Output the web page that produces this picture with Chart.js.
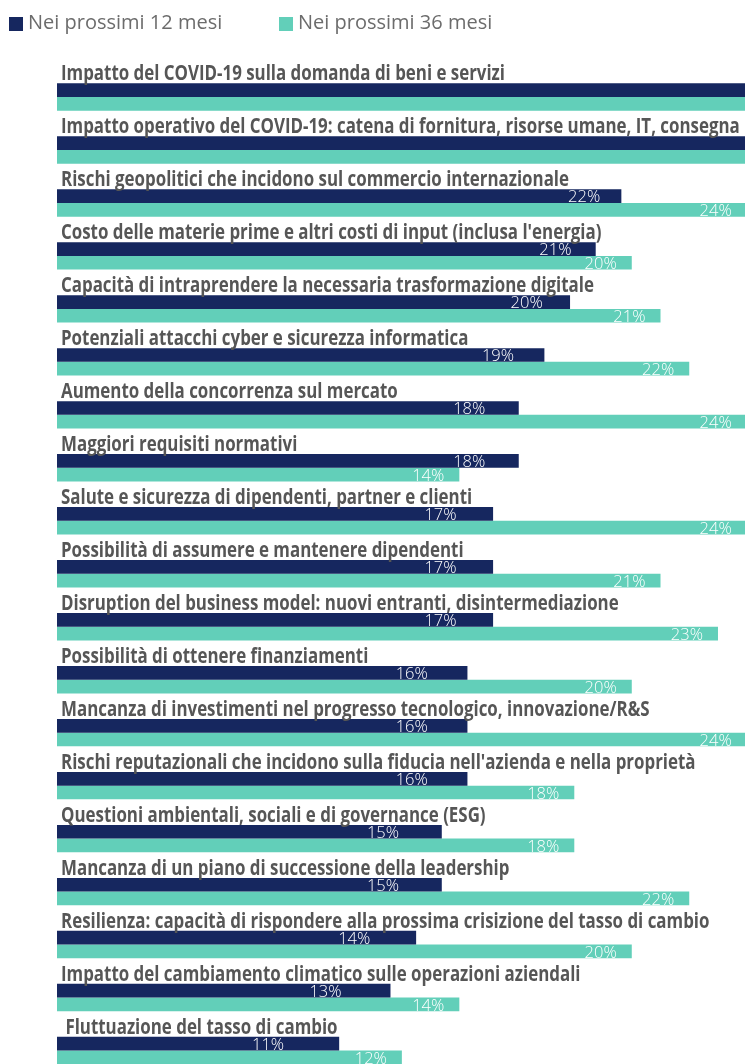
<!DOCTYPE html>
<html lang="it">
<head>
<meta charset="utf-8">
<title>Rischi per l'azienda</title>
<script src="https://cdn.jsdelivr.net/npm/chart.js@4.4.1/dist/chart.umd.min.js"></script>
<style>
  html, body { margin: 0; padding: 0; background: #fff; overflow: hidden; }
  #wrap { position: relative; width: 745px; height: 1077px; }
</style>
</head>
<body>
<div id="wrap"><canvas id="riskChart"></canvas></div>
<script>
const categories = [
  'Impatto del COVID-19 sulla domanda di beni e servizi',
  'Impatto operativo del COVID-19: catena di fornitura, risorse umane, IT, consegna',
  'Rischi geopolitici che incidono sul commercio internazionale',
  "Costo delle materie prime e altri costi di input (inclusa l'energia)",
  'Capacità di intraprendere la necessaria trasformazione digitale',
  'Potenziali attacchi cyber e sicurezza informatica',
  'Aumento della concorrenza sul mercato',
  'Maggiori requisiti normativi',
  'Salute e sicurezza di dipendenti, partner e clienti',
  'Possibilità di assumere e mantenere dipendenti',
  'Disruption del business model: nuovi entranti, disintermediazione',
  'Possibilità di ottenere finanziamenti',
  'Mancanza di investimenti nel progresso tecnologico, innovazione/R&S',
  "Rischi reputazionali che incidono sulla fiducia nell'azienda e nella proprietà",
  'Questioni ambientali, sociali e di governance (ESG)',
  'Mancanza di un piano di successione della leadership',
  'Resilienza: capacità di rispondere alla prossima crisizione del tasso di cambio',
  'Impatto del cambiamento climatico sulle operazioni aziendali',
  ' Fluttuazione del tasso di cambio'
];
const next12 = [30, 29, 22, 21, 20, 19, 18, 18, 17, 17, 17, 16, 16, 16, 15, 15, 14, 13, 11];
const next36 = [27, 26, 24, 20, 21, 22, 24, 14, 24, 21, 23, 20, 24, 18, 18, 22, 20, 14, 12];
const seriesNames = ['Nei prossimi 12 mesi', 'Nei prossimi 36 mesi'];

const NAVY = '#16275f';
const TEAL = '#62cfb9';
const LABEL_GREY = '#565656';

// legend squares + names along the top
const topLegend = {
  id: 'topLegend',
  afterDraw(chart) {
    const ctx = chart.ctx;
    const xs = [9, 279];
    ctx.save();
    ctx.font = '20px "Open Sans"';
    ctx.textBaseline = 'middle';
    ctx.textAlign = 'left';
    chart.data.datasets.forEach((ds, i) => {
      ctx.fillStyle = ds.backgroundColor;
      ctx.fillRect(xs[i], 17, 14, 14);
      ctx.fillStyle = '#6c6c6c';
      ctx.fillText(ds.label, xs[i] + 19, 23);
    });
    ctx.restore();
  }
};

// category names above each pair of bars, condensed bold
const categoryNames = {
  id: 'categoryNames',
  afterDatasetsDraw(chart) {
    const ctx = chart.ctx;
    const meta = chart.getDatasetMeta(0);
    ctx.save();
    ctx.font = 'bold 20.5px "Open Sans"';
    const squeeze = 444 / ctx.measureText(chart.data.labels[0]).width;
    ctx.fillStyle = LABEL_GREY;
    ctx.textBaseline = 'alphabetic';
    ctx.textAlign = 'left';
    meta.data.forEach((bar, i) => {
      const top = bar.y - bar.height / 2;
      ctx.save();
      ctx.translate(chart.chartArea.left + 4, top - 3);
      ctx.scale(squeeze, 1);
      ctx.fillText(chart.data.labels[i], 0, 0);
      ctx.restore();
    });
    ctx.restore();
  }
};

// white percentage labels near the bar ends
const valueLabels = {
  id: 'valueLabels',
  afterDatasetsDraw(chart) {
    const ctx = chart.ctx;
    const x2 = chart.scales.x2;
    const shift = [89, 15];
    ctx.save();
    ctx.font = '300 16.5px "Open Sans"';
    ctx.fillStyle = '#ffffff';
    ctx.textAlign = 'right';
    ctx.textBaseline = 'alphabetic';
    chart.data.datasets.forEach((ds, d) => {
      chart.getDatasetMeta(d).data.forEach((bar, i) => {
        const v = ds.data[i];
        const x = x2.getPixelForValue(v) - shift[d];
        if (x > chart.chartArea.right) return;
        ctx.fillText(v + '%', x, bar.y + bar.height / 2 - 0.5);
      });
    });
    ctx.restore();
  }
};

const ctx = document.getElementById('riskChart').getContext('2d');
new Chart(ctx, {
  type: 'bar',
  data: {
    labels: categories,
    datasets: [
      { label: seriesNames[0], data: next12, backgroundColor: NAVY, xAxisID: 'x' },
      { label: seriesNames[1], data: next36, backgroundColor: TEAL, xAxisID: 'x2' }
    ]
  },
  options: {
    indexAxis: 'y',
    responsive: true,
    maintainAspectRatio: false,
    animation: false,
    events: [],
    layout: { padding: { left: 57, right: 0, top: 70.5, bottom: 0 } },
    datasets: { bar: { categoryPercentage: 0.517, barPercentage: 1, borderWidth: 0 } },
    scales: {
      x: { display: false, min: 0, max: 26.82 },
      x2: { display: false, min: 0, max: 23.94 },
      y: { display: false }
    },
    plugins: {
      legend: { display: false },
      tooltip: { enabled: false }
    }
  },
  plugins: [topLegend, categoryNames, valueLabels]
});
</script>
</body>
</html>
